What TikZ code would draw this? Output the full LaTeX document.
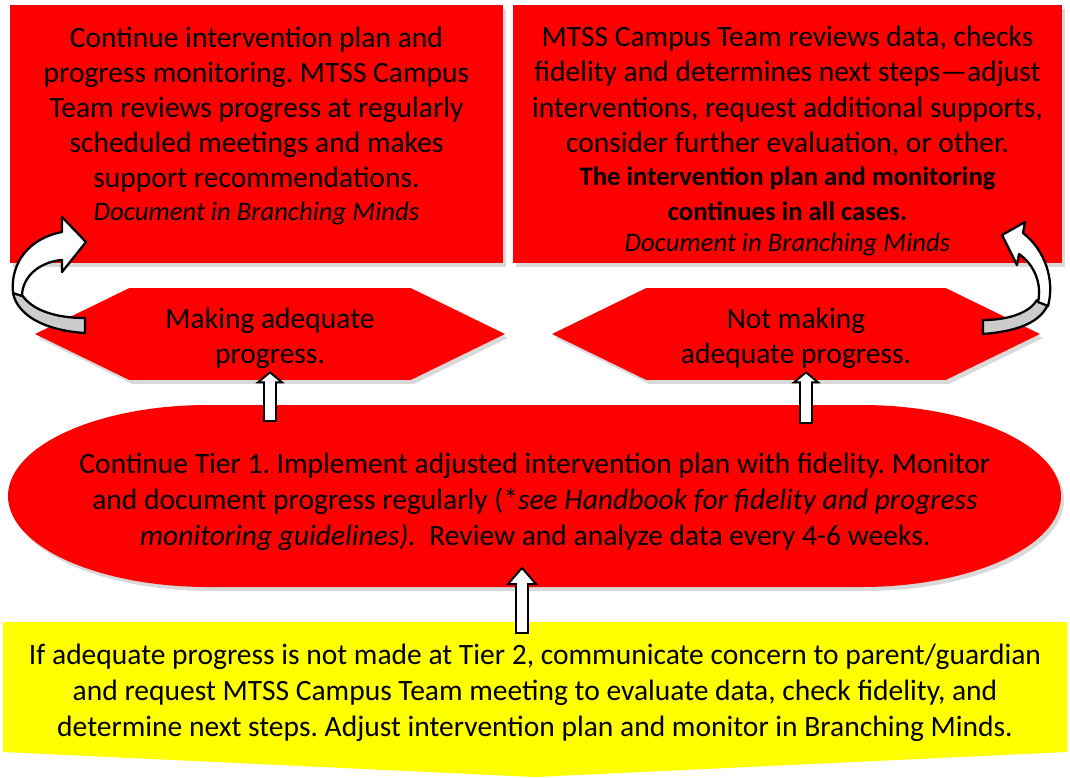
\documentclass[tikz,border=0pt]{standalone}
\usepackage{fontspec}
\setmainfont{Carlito}
\usetikzlibrary{calc,shapes.symbols,shadows}

\definecolor{mtssred}{RGB}{255,0,0}
\definecolor{mtssyellow}{RGB}{255,255,0}
\definecolor{twistgray}{RGB}{204,204,204}

\newcommand\notefont{\fontsize{15.2}{18.5}\selectfont}
% up block arrow: foot, tip, head half width, head length
\newcommand\blockup[4]{%
  \draw[blockarr] ($(#1)+(-6,0)$) |- ($(#2)+(-#3,#4)$) -- (#2)
    -- ($(#2)+(#3,#4)$) -| ($(#1)+(6,0)$) -- cycle;}

\begin{document}
\begin{tikzpicture}[x=0.02cm, y=-0.02cm,
    every node/.style={font=\fontsize{16.8}{20}\selectfont\frenchspacing,
        align=center},
    boxshadow/.style={drop shadow={opacity=0.3, shadow xshift=0.06cm,
        shadow yshift=-0.08cm}},
    redbox/.style={fill=mtssred, boxshadow, minimum height=5.16cm, inner sep=0pt},
    hexa/.style={signal, signal to=east and west, signal pointer angle=52,
        fill=mtssred, boxshadow, minimum height=1.84cm, inner sep=0pt},
    blockarr/.style={draw, line width=1.1pt, fill=white},
    twist/.style={draw, line width=1.3pt, line join=round}]
  \useasboundingbox (0,0) rectangle (1070,777);

  % top boxes
  \node[redbox, minimum width=9.86cm] (contbox) at (256.5,134) {};
  \node (conttext) at (256.5,126) {Continue intervention plan and\\
    progress monitoring. MTSS Campus\\
    Team reviews progress at regularly\\
    scheduled meetings and makes\\
    support recommendations.\\[-1.2pt]
    {\notefont\itshape Document in Branching Minds}};
  \node[redbox, minimum width=10.98cm] (stepsbox) at (787.5,134) {};
  \node (stepstext) at (787.5,141) {MTSS Campus Team reviews data, checks\\
    fidelity and determines next steps---adjust\\
    interventions, request additional supports,\\
    consider further evaluation, or other.\\[-0.8pt]
    {\notefont\bfseries The intervention plan and monitoring}\\[-0.6pt]
    {\notefont\bfseries continues in all cases.}\\[-2.3pt]
    {\notefont\itshape Document in Branching Minds}};

  % outcomes
  \node[hexa, minimum width=9.4cm] (adequate) at (270,334) {};
  \node (adequatetext) at ($(adequate.center)+(0,4.5)$)
    {Making adequate\\progress.};
  \node[hexa, minimum width=9.76cm] (notadequate) at (796,334) {};
  \node (notadequatetext) at ($(notadequate.center)+(0,4.5)$)
    {Not making\\adequate progress.};

  % tier 1
  \fill[mtssred, boxshadow] (208,405) -- (861,405)
    arc[start angle=-90, end angle=90, x radius=200, y radius=91]
    -- (208,587)
    arc[start angle=90, end angle=270, x radius=200, y radius=91] -- cycle;
  \node (tierone) at (535,501.5) {Continue Tier 1. Implement adjusted
    intervention plan with fidelity. Monitor\\[0.5pt]
    and document progress regularly (*\textit{see Handbook for fidelity
    and progress}\\[0.5pt]
    \textit{monitoring guidelines).}\ \ Review and analyze data every
    4-6 weeks.};

  % tier 2
  \fill[mtssyellow] (3,622) -- (1067,622) -- (1067,752) -- (535,777)
    -- (3,752) -- cycle;
  \node (tiertwo) at (535,693) {If adequate progress is not made at Tier 2,
    communicate concern to parent/guardian\\[0.5pt]
    and request MTSS Campus Team meeting to evaluate data, check fidelity,
    and\\[0.5pt]
    determine next steps. Adjust intervention plan and monitor in Branching
    Minds.};

  % up arrows
  \coordinate (onetop) at (535,405);
  \coordinate (onebot) at (535,587);
  \coordinate (twotop) at (535,622);
  \coordinate (lfoot) at ($(adequate.south |- onetop)+(0,16)$);
  \coordinate (ltip) at ($(adequate.south)+(0,-8)$);
  \coordinate (rfoot) at ($(notadequate.south |- onetop)+(10,18)$);
  \coordinate (rtip) at ($(notadequate.south)+(10,-8)$);
  \coordinate (mfoot) at ($(twotop)+(-13,11)$);
  \coordinate (mtip) at ($(onebot)+(-13,-19)$);
  \blockup{lfoot}{ltip}{12}{10}
  \blockup{rfoot}{rtip}{12}{10}
  \blockup{mfoot}{mtip}{14}{16}

  % loop arrows
  \filldraw[twist, fill=twistgray] (13,293) .. controls (18,318) and (50,331)
    .. (85,333) -- (85,318) .. controls (55,318) and (32,310) .. (22,295)
    -- cycle;
  \filldraw[twist, fill=white] (62,232) -- (62,217) -- (86,242) -- (62,272)
    -- (62,260) .. controls (38,262) and (22,278) .. (22,296)
    -- (13,293) .. controls (10,262) and (30,238) .. (62,232) -- cycle;
  \filldraw[twist, fill=twistgray] (1048,304) .. controls (1040,325)
    and (1010,332) .. (983,334) -- (983,320) .. controls (1010,320)
    and (1030,312) .. (1037,300) -- cycle;
  \filldraw[twist, fill=white] (1023,233) -- (1025,222) -- (1002,235)
    -- (1017,265) -- (1019,254) .. controls (1035,265) and (1042,285)
    .. (1038,302) -- (1048,306) .. controls (1055,280) and (1045,250)
    .. (1023,233) -- cycle;
\end{tikzpicture}
\end{document}
